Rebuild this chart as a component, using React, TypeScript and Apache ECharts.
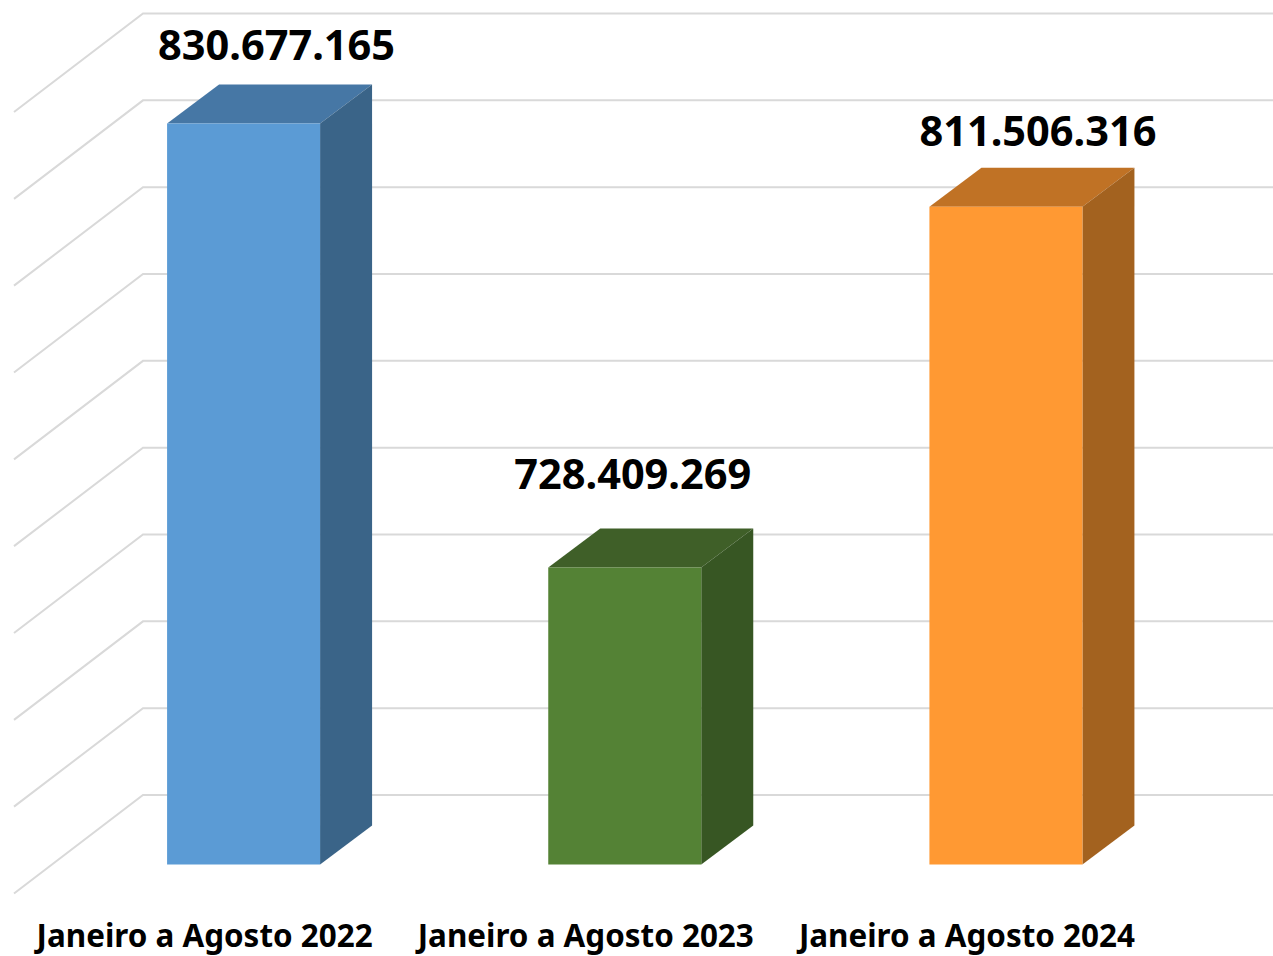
import React, { useEffect, useRef } from "react";
import * as echarts from "echarts";

const categories = ["Janeiro a Agosto 2022", "Janeiro a Agosto 2023", "Janeiro a Agosto 2024"];
const values = [830677165, 728409269, 811506316];
const valueLabels = ["830.677.165", "728.409.269", "811.506.316"];
const gridValues = [660e6, 680e6, 700e6, 720e6, 740e6, 760e6, 780e6, 800e6, 820e6, 840e6];
const frontColors = ["#5B9BD5", "#548235", "#FF9933"];
const topColors = ["#4677A5", "#3F5F28", "#C07225"];
const sideColors = ["#3A6488", "#375623", "#A3621F"];

const FONT = '"Noto Sans", sans-serif';
const BAR_SHIFT = 39;
const BAR_W = 153;
const BAR_DX = 52;
const BAR_DY = 39;
const labelShift = [
  [33, -79],
  [8, -94],
  [32, -77],
];

export default function App() {
  const ref = useRef<HTMLDivElement>(null);
  useEffect(() => {
    const chart = echarts.init(ref.current!, null, { renderer: "svg" });
    chart.setOption({
      animation: false,
      backgroundColor: "#FFFFFF",
      grid: { left: 14, right: 115.5, top: 83, bottom: 91.5 },
      xAxis: {
        type: "category",
        data: categories,
        axisLine: { show: false },
        axisTick: { show: false },
        splitLine: { show: false },
        axisLabel: {
          show: true,
          interval: 0,
          margin: 53,
          color: "#000000",
          fontFamily: FONT,
          fontWeight: "bold",
          fontSize: 31.4,
          lineHeight: 34,
        },
      },
      yAxis: {
        type: "value",
        min: 660e6,
        max: 840e6,
        interval: 20e6,
        show: false,
      },
      series: [
        {
          type: "custom",
          silent: true,
          z: 1,
          data: gridValues.map((v) => [0, v]),
          renderItem: (params: any, api: any) => {
            const y = api.coord([0, api.value(1)])[1];
            const x0 = params.coordSys.x;
            return {
              type: "polyline",
              shape: {
                points: [
                  [x0, y + 29],
                  [x0 + 129, y - 69.5],
                  [api.getWidth(), y - 69.5],
                ],
              },
              style: { fill: "none", stroke: "#D9D9D9", lineWidth: 2 },
            };
          },
        },
        {
          type: "custom",
          silent: true,
          z: 2,
          data: values.map((v, i) => [i, v]),
          renderItem: (params: any, api: any) => {
            const i = params.dataIndex;
            const top = api.coord([i, api.value(1)]);
            const base = api.coord([i, 660e6]);
            const left = top[0] + BAR_SHIFT - BAR_W / 2;
            const right = left + BAR_W;
            const yt = top[1];
            const yb = base[1];
            return {
              type: "group",
              children: [
                {
                  type: "polygon",
                  shape: { points: [[left, yt], [right, yt], [right + BAR_DX, yt - BAR_DY], [left + BAR_DX, yt - BAR_DY]] },
                  style: { fill: topColors[i] },
                },
                {
                  type: "polygon",
                  shape: { points: [[right, yt], [right + BAR_DX, yt - BAR_DY], [right + BAR_DX, yb - BAR_DY], [right, yb]] },
                  style: { fill: sideColors[i] },
                },
                {
                  type: "rect",
                  shape: { x: left, y: yt, width: BAR_W, height: yb - yt },
                  style: { fill: frontColors[i] },
                },
                {
                  type: "text",
                  style: {
                    x: (left + right) / 2 + labelShift[i][0],
                    y: yt + labelShift[i][1],
                    text: valueLabels[i],
                    fill: "#000000",
                    font: `bold 41.5px ${FONT}`,
                    textAlign: "center",
                    textVerticalAlign: "middle",
                  },
                },
              ],
            };
          },
        },
      ],
    });
    return () => chart.dispose();
  }, []);
  return <div ref={ref} style={{ position: "fixed", left: 0, top: 0, width: 1273, height: 956 }} />;
}
